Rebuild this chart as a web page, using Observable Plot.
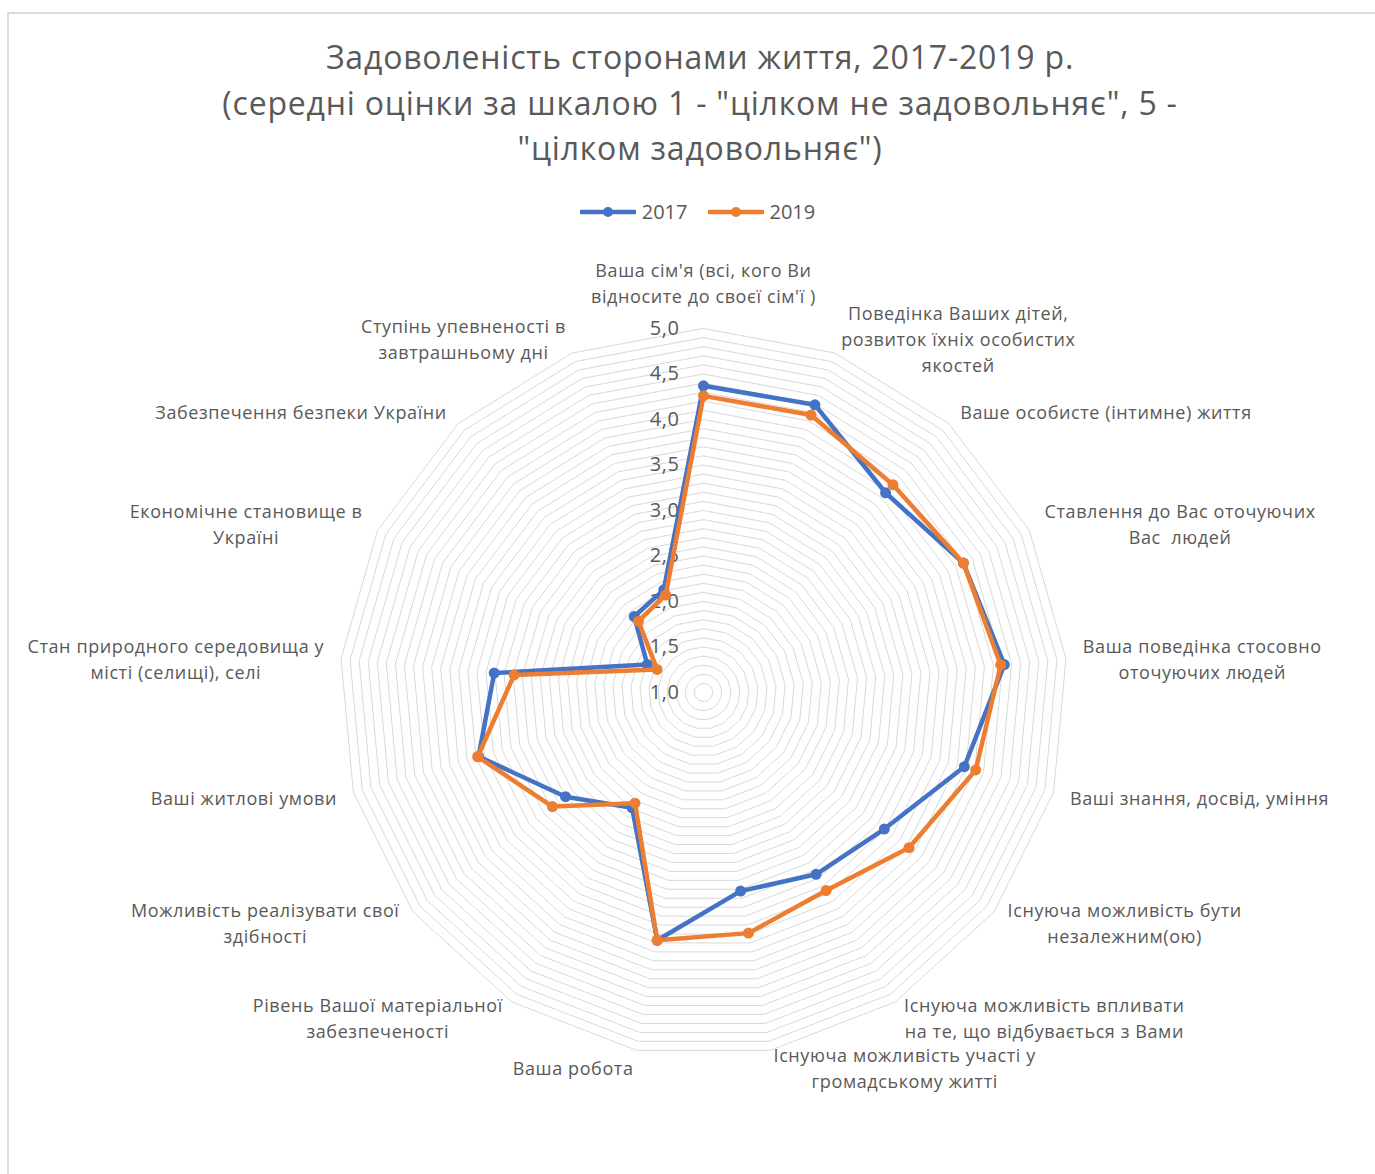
<!DOCTYPE html>
<html>
<head>
<meta charset="utf-8">
<script src="https://cdn.jsdelivr.net/npm/d3@7"></script>
<script src="https://cdn.jsdelivr.net/npm/@observablehq/plot@0.6"></script>
<style>
  html, body { margin: 0; padding: 0; background: #fff; overflow: hidden; }
  body { width: 1375px; height: 1174px; position: relative; font-family: "Open Sans", sans-serif; color: #595959; }
  #frame { position: absolute; left: 7px; top: 12px; width: 1420px; height: 1220px; border: 2px solid #dcdcdc; box-sizing: border-box; }
  #title { position: absolute; top: 34px; left: 0; width: 1400px; text-align: center; font-size: 32px; letter-spacing: 0.8px; line-height: 45.5px; color: #595959; }
  #legend { position: absolute; top: 198px; left: 0; width: 1395px; display: flex; justify-content: center; align-items: center; gap: 20px; font-size: 20px; color: #595959; }
  .item { display: flex; align-items: center; gap: 6px; }
  #chart { position: absolute; top: 240px; left: 0; }
  #chart svg text { letter-spacing: 0.6px; }
</style>
</head>
<body>
<div id="frame"></div>
<div id="title">Задоволеність сторонами життя, 2017-2019 р.<br>(середні оцінки за шкалою 1 - "цілком не задовольняє", 5 -<br>"цілком задовольняє")</div>
<div id="legend"></div>
<div id="chart"></div>
<script>
// ---- data ----
const categories = [
  "Ваша сім'я (всі, кого Ви\nвідносите до своєї сім'ї )",
  "Поведінка Ваших дітей,\nрозвиток їхніх особистих\nякостей",
  "Ваше особисте (інтимне) життя",
  "Ставлення до Вас оточуючих\nВас  людей",
  "Ваша поведінка стосовно\nоточуючих людей",
  "Ваші знання, досвід, уміння",
  "Існуюча можливість бути\nнезалежним(ою)",
  "Існуюча можливість впливати\nна те, що відбувається з Вами",
  "Існуюча можливість участі у\nгромадському житті",
  "Ваша робота",
  "Рівень Вашої матеріальної\nзабезпеченості",
  "Можливість реалізувати свої\nздібності",
  "Ваші житлові умови",
  "Стан природного середовища у\nмісті (селищі), селі",
  "Економічне становище в\nУкраїні",
  "Забезпечення безпеки України",
  "Ступінь упевненості в\nзавтрашньому дні"
];
const values2017 = [4.37, 4.39, 3.97, 4.19, 4.32, 3.98, 3.49, 3.35, 3.22, 3.77, 2.49, 2.90, 3.57, 3.31, 1.69, 2.13, 2.21];
const values2019 = [4.26, 4.27, 4.09, 4.19, 4.28, 4.11, 3.83, 3.56, 3.69, 3.77, 2.43, 3.08, 3.58, 3.09, 1.57, 2.06, 2.15];
const seriesNames = ["2017", "2019"];
const seriesColors = ["#4472C4", "#ED7D31"];
const tickValues = [1.0, 1.5, 2.0, 2.5, 3.0, 3.5, 4.0, 4.5, 5.0];
const tickLabels = ["1,0", "1,5", "2,0", "2,5", "3,0", "3,5", "4,0", "4,5", "5,0"];
const gridStep = 0.1;
const rMin = 1, rMax = 5;

// ---- layout ----
const W = 1375, H = 920;
const cxPage = 703, cyPage = 692, svgTop = 240;
const ppu = 91; // pixels per scale unit
const cyS = cyPage - svgTop;
const n = categories.length;
const ang = i => i * 2 * Math.PI / n;
const px = (v, i) => (v - rMin) * Math.sin(ang(i));
const py = (v, i) => (v - rMin) * Math.cos(ang(i));

// grid rings
const ringLevels = d3.range(Math.round((rMax - rMin) / gridStep)).map(k => +(rMin + (k + 1) * gridStep).toFixed(2));
const rings = [];
ringLevels.forEach(lv => {
  for (let i = 0; i <= n; i++) rings.push({lv, x: px(lv, i % n), y: py(lv, i % n)});
});

// series polygons
const series = [values2017, values2019];
const lineData = [];
const dotData = [];
series.forEach((vals, s) => {
  for (let i = 0; i <= n; i++) lineData.push({s: seriesNames[s], x: px(vals[i % n], i % n), y: py(vals[i % n], i % n)});
  vals.forEach((v, i) => dotData.push({s: seriesNames[s], x: px(v, i), y: py(v, i)}));
});

// category labels
const labelFontSize = 18, labelLineH = 26, labelSpacing = 0.6;
const canvas = document.createElement("canvas");
const ctx = canvas.getContext("2d");
ctx.font = `${labelFontSize}px "Open Sans"`;
const gap = 17, topExtra = 9;
const labelData = categories.map((c, i) => {
  const lines = c.split("\n");
  const w = d3.max(lines, l => ctx.measureText(l).width + l.length * labelSpacing);
  const s = Math.sin(ang(i)), co = Math.cos(ang(i));
  const vx = (rMax - rMin) * s + gap * s / ppu;
  const vy = (rMax - rMin) * co + gap * co / ppu;
  let x, y, anchor;
  if (Math.abs(s) < 0.05) { x = vx; y = vy + topExtra / ppu; anchor = "bottom"; }
  else { x = vx + Math.sign(s) * (w / 2) / ppu; y = vy; anchor = "middle"; }
  return {text: c, x, y, anchor};
});

const tickData = tickValues.map((v, i) => ({x: 0, y: v - rMin, label: tickLabels[i]}));

const chart = Plot.plot({
  width: W, height: H, margin: 0,
  x: {domain: [-cxPage / ppu, (W - cxPage) / ppu], axis: null},
  y: {domain: [-(H - cyS) / ppu, cyS / ppu], axis: null},
  style: {background: "transparent", fontFamily: "Open Sans"},
  marks: [
    Plot.line(rings, {x: "x", y: "y", z: "lv", stroke: "#d9d9d9", strokeWidth: 1, curve: "linear"}),
    Plot.text(tickData, {x: "x", y: "y", text: "label", textAnchor: "end", dx: -24, fontSize: 20, fill: "#595959"}),
    Plot.line(lineData.filter(d => d.s === "2017"), {x: "x", y: "y", stroke: seriesColors[0], strokeWidth: 4.5, strokeLinejoin: "round"}),
    Plot.dot(dotData.filter(d => d.s === "2017"), {x: "x", y: "y", r: 5.5, fill: seriesColors[0], stroke: "none"}),
    Plot.line(lineData.filter(d => d.s === "2019"), {x: "x", y: "y", stroke: seriesColors[1], strokeWidth: 4.5, strokeLinejoin: "round"}),
    Plot.dot(dotData.filter(d => d.s === "2019"), {x: "x", y: "y", r: 5.5, fill: seriesColors[1], stroke: "none"}),
    ...labelData.map(d => Plot.text([d], {x: "x", y: "y", text: "text", textAnchor: "middle", lineAnchor: d.anchor, lineHeight: labelLineH / labelFontSize, fontSize: labelFontSize, fill: "#595959"}))
  ]
});
document.getElementById("chart").appendChild(chart);

// legend
const legend = document.getElementById("legend");
seriesNames.forEach((name, s) => {
  const item = document.createElement("div");
  item.className = "item";
  item.innerHTML = `<svg width="56" height="14"><line x1="1" y1="7" x2="55" y2="7" stroke="${seriesColors[s]}" stroke-width="4.5" stroke-linecap="round"/><circle cx="28" cy="7" r="5" fill="${seriesColors[s]}"/></svg><span>${name}</span>`;
  legend.appendChild(item);
});
</script>
</body>
</html>
